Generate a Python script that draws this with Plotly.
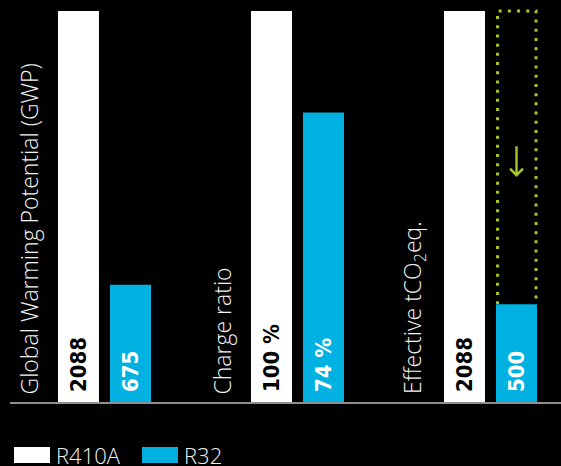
import plotly.graph_objects as go

# ---- data ----
CATEGORIES = ["Global Warming Potential (GWP)", "Charge ratio", "Effective tCO<sub>2</sub>eq."]
SERIES_NAMES = ["R410A", "R32"]
# bar heights as shown (relative to R410A = 100)
R410A_HEIGHT = [100, 100, 100]
R32_HEIGHT = [30, 74, 25]
# labels written on the bars
R410A_LABELS = ["2088", "100 %", "2088"]
R32_LABELS = ["675", "74 %", "500"]

# ---- styling ----
W, H = 561, 466
ML, MR, MT, MB = 10, 0, 0, 64
WHITE = "#ffffff"
CYAN = "#00b1e2"
GREEN = "#a6c72a"
BARGAP = 0.4611
BARGROUPGAP = 0.2115
X_RANGE = [-0.4896, 2.3653]
Y_RANGE = [0, 102.8]
VAL_FONT = "Liberation Sans Narrow, DejaVu Sans Condensed, Arial Narrow, sans-serif"
LBL_FONT = "Open Sans, sans-serif"
PAD = "\u00a0"

x_idx = list(range(len(CATEGORIES)))

fig = go.Figure()
fig.add_bar(x=x_idx, y=R410A_HEIGHT, name=SERIES_NAMES[0], marker=dict(color=WHITE, line=dict(width=0)),
            text=[PAD + t for t in R410A_LABELS], textposition="inside", insidetextanchor="start",
            textangle=-90, constraintext="none",
            insidetextfont=dict(family=VAL_FONT, size=22, color="#000000", weight="bold"),
            showlegend=False, hoverinfo="skip")
fig.add_bar(x=x_idx, y=R32_HEIGHT, name=SERIES_NAMES[1], marker=dict(color=CYAN, line=dict(width=0)),
            text=[PAD + t for t in R32_LABELS], textposition="inside", insidetextanchor="start",
            textangle=-90, constraintext="none",
            insidetextfont=dict(family=VAL_FONT, size=22, color="#ffffff", weight="bold"),
            showlegend=False, hoverinfo="skip")

# geometry of grouped bars (derived from bargap / bargroupgap)
group_w = 1 - BARGAP
sub_w = group_w / 2
bar_w = sub_w * (1 - BARGROUPGAP)
cyan_off = sub_w / 2
white_off = -sub_w / 2

shapes = []
annotations = []

# category labels, rotated, left of each group
for i, cat in enumerate(CATEGORIES):
    annotations.append(dict(x=i + white_off - bar_w / 2, y=0, xref="x", yref="y",
                            text=cat, textangle=-90, showarrow=False,
                            xanchor="right", yanchor="bottom", xshift=-11, yshift=6,
                            font=dict(family=LBL_FONT, size=23, color="#f2f2f2", weight=300)))

# dotted outline (three sides) showing the former level of R32 in the last group
last = len(CATEGORIES) - 1
ox0 = last + cyan_off - bar_w / 2 + 0.008
ox1 = last + cyan_off + bar_w / 2 - 0.005
oy0 = R32_HEIGHT[last]
oy1 = R410A_HEIGHT[last]
shapes.append(dict(type="path", xref="x", yref="y", layer="below",
                   path=f"M{ox0},{oy0} L{ox0},{oy1} L{ox1},{oy1} L{ox1},{oy0}",
                   line=dict(color=GREEN, width=3, dash="3px,6.2px")))

# thin down arrow (pixel-sized, anchored at its tip)
shapes.append(dict(type="path", xref="x", yref="y", xsizemode="pixel", ysizemode="pixel",
                   xanchor=last + cyan_off, yanchor=58,
                   path="M0,0 L0,29 M-6.5,6.5 L0,0 L6.5,6.5",
                   line=dict(color=GREEN, width=2.4)))

# manual legend
def px_x(p):
    return (p - ML) / (W - ML - MR)

def px_y(p):
    return (H - MB - p) / (H - MT - MB)

legend_items = [(SERIES_NAMES[0], WHITE, 14), (SERIES_NAMES[1], CYAN, 142)]
for name, col, x0 in legend_items:
    shapes.append(dict(type="rect", xref="paper", yref="paper", x0=px_x(x0), x1=px_x(x0 + 36),
                       y0=px_y(463), y1=px_y(447), fillcolor=col, line=dict(width=0)))
    annotations.append(dict(x=px_x(x0 + 40), y=px_y(455), xref="paper", yref="paper", text=name,
                            showarrow=False, xanchor="left", yanchor="middle",
                            font=dict(family=LBL_FONT, size=22, color="#f2f2f2", weight=300)))

fig.update_layout(
    width=W, height=H, margin=dict(l=ML, r=MR, t=MT, b=MB),
    paper_bgcolor="#000000", plot_bgcolor="#000000",
    barmode="group", bargap=BARGAP, bargroupgap=BARGROUPGAP,
    xaxis=dict(range=X_RANGE, showgrid=False, zeroline=False, showticklabels=False, ticks="",
               showline=True, linecolor="#8f8f8f", linewidth=1.5, fixedrange=True),
    yaxis=dict(range=Y_RANGE, showgrid=False, zeroline=False, showticklabels=False, ticks="",
               showline=False, fixedrange=True),
    shapes=shapes, annotations=annotations, showlegend=False,
)

fig.write_html(
    "out.html",
    config={"displayModeBar": False},
    post_script="document.body.style.margin='0';document.body.style.overflow='hidden';",
)
